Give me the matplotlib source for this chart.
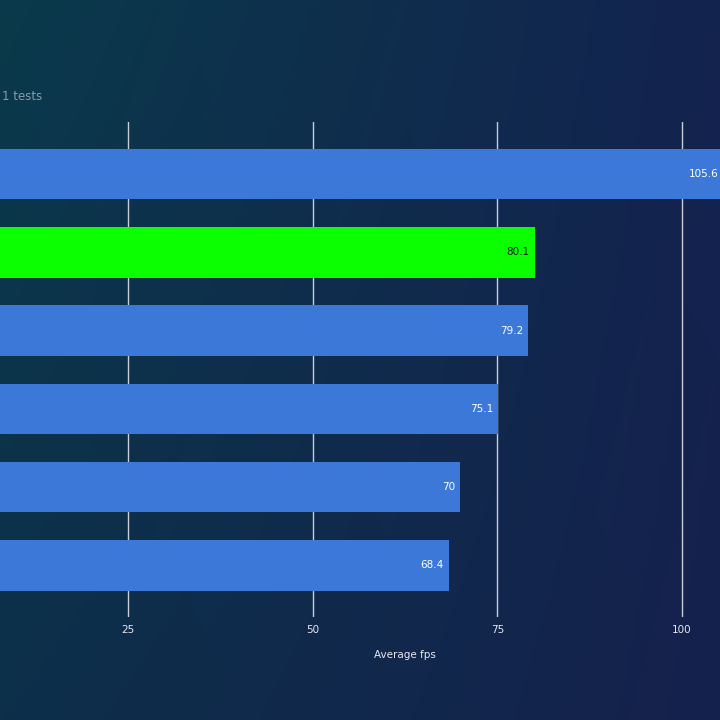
import numpy as np
import matplotlib.pyplot as plt
from matplotlib.colors import to_rgb

# values (top bar first)
values = [105.6, 80.1, 79.2, 75.1, 70, 68.4]
highlight = 1  # the green bar
ticks = [25, 50, 75, 100]
xlabel = "Average fps"
subtitle = "1 tests"

blue = "#3b78d8"
green = "#0cff00"

fig = plt.figure(figsize=(7.2, 7.2), dpi=100)

# gradient background over the whole figure
bg = fig.add_axes([0, 0, 1, 1], zorder=0)
tl, tr = np.array(to_rgb("#0a3a4b")), np.array(to_rgb("#13234f"))
bl, br = np.array(to_rgb("#0d2f4a")), np.array(to_rgb("#15214d"))
u = np.linspace(0, 1, 200)[None, :, None]
v = np.linspace(0, 1, 200)[:, None, None]
img = (1 - v) * ((1 - u) * tl + u * tr) + v * ((1 - u) * bl + u * br)
bg.imshow(img, extent=[0, 1, 0, 1], aspect="auto", origin="upper")
bg.set_xlim(0, 1)
bg.set_ylim(0, 1)
bg.axis("off")

bg.text(0.003, 1 - 96 / 720, subtitle, fontsize=8.5, color="#8a9cab",
        ha="left", va="center")

ax = fig.add_axes([0, 1 - 617 / 720, 1, (617 - 122) / 720], zorder=1)
ax.patch.set_alpha(0)
y = np.arange(len(values))
colors = [green if i == highlight else blue for i in range(len(values))]
ax.barh(y, values, height=0.645, color=colors, zorder=2)
for i, val in enumerate(values):
    ax.text(val - 0.7, i, f"{val:g}", ha="right", va="center", fontsize=7.5,
            color="#102010" if i == highlight else "white", zorder=3)

ax.set_xlim(56.7 / 7.387, 776.7 / 7.387)
ax.set_ylim(5.66, -0.665)
ax.set_xticks(ticks)
ax.set_yticks([])
ax.grid(axis="x", color="#c9ced8", linewidth=1, zorder=1)
ax.tick_params(axis="x", length=0, pad=6, labelsize=7.5, labelcolor="#e6e9ef")
for s in ax.spines.values():
    s.set_visible(False)
ax.set_xlabel(xlabel, fontsize=7.5, color="#e6e9ef")
ax.xaxis.set_label_coords(405 / 720, -33 / 495)

fig.savefig("out.png", dpi=100)
